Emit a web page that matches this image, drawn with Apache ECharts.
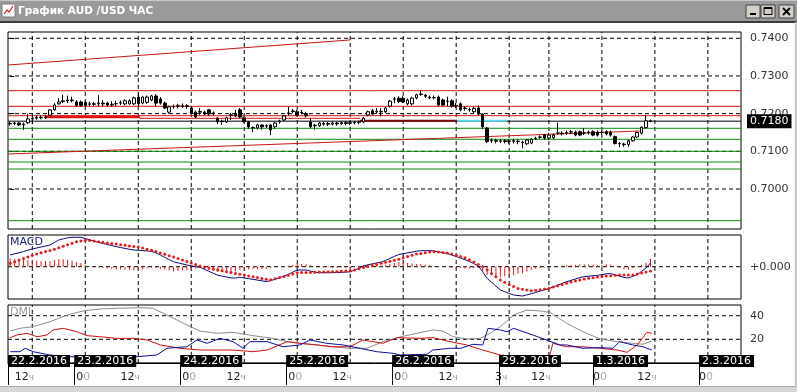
<!DOCTYPE html>
<html><head><meta charset="utf-8">
<script src="https://cdn.jsdelivr.net/npm/echarts@6/dist/echarts.min.js"></script>
<style>html,body{margin:0;padding:0;background:#fff}#c{width:797px;height:392px}</style>
</head><body><div id="c"></div>
<script>
// ---- data (hourly bars, index 0 = 22.2.2016 07:00), rows: [open, close, low, high] ----
const ohlc = [
[0.7173,0.7174,0.7168,0.7178],[0.7174,0.7175,0.7170,0.7178],[0.7175,0.7170,0.7167,0.7177],[0.7170,0.7172,0.7157,0.7176],
[0.7176,0.7186,0.7172,0.7200],[0.7186,0.7188,0.7172,0.7200],[0.7188,0.7190,0.7184,0.7195],[0.7190,0.7189,0.7185,0.7194],
[0.7189,0.7191,0.7186,0.7196],[0.7196,0.7210,0.7194,0.7212],[0.7210,0.7223,0.7208,0.7228],[0.7226,0.7231,0.7224,0.7241],
[0.7232,0.7234,0.7228,0.7250],[0.7234,0.7236,0.7228,0.7248],[0.7236,0.7235,0.7230,0.7245],[0.7231,0.7222,0.7218,0.7236],
[0.7231,0.7222,0.7219,0.7235],[0.7230,0.7222,0.7218,0.7234],[0.7225,0.7226,0.7220,0.7232],[0.7226,0.7225,0.7221,0.7231],
[0.7226,0.7228,0.7220,0.7249],[0.7228,0.7226,0.7220,0.7236],[0.7228,0.7223,0.7220,0.7232],[0.7223,0.7225,0.7219,0.7233],
[0.7226,0.7227,0.7220,0.7234],[0.7228,0.7229,0.7223,0.7235],[0.7226,0.7234,0.7222,0.7238],[0.7226,0.7234,0.7224,0.7238],
[0.7226,0.7242,0.7223,0.7245],[0.7244,0.7226,0.7218,0.7257],[0.7228,0.7244,0.7225,0.7247],[0.7230,0.7244,0.7226,0.7248],
[0.7236,0.7247,0.7233,0.7250],[0.7247,0.7228,0.7220,0.7252],[0.7239,0.7228,0.7224,0.7244],[0.7228,0.7215,0.7212,0.7232],
[0.7204,0.7218,0.7200,0.7221],[0.7218,0.7219,0.7213,0.7224],[0.7220,0.7221,0.7214,0.7226],[0.7219,0.7221,0.7215,0.7227],
[0.7221,0.7219,0.7213,0.7225],[0.7215,0.7202,0.7198,0.7219],[0.7204,0.7191,0.7188,0.7208],[0.7204,0.7206,0.7197,0.7215],
[0.7204,0.7199,0.7196,0.7208],[0.7210,0.7199,0.7194,0.7212],[0.7200,0.7202,0.7196,0.7206],[0.7188,0.7179,0.7172,0.7191],
[0.7180,0.7179,0.7170,0.7184],[0.7178,0.7189,0.7175,0.7192],[0.7195,0.7197,0.7183,0.7202],[0.7201,0.7194,0.7190,0.7210],
[0.7210,0.7191,0.7188,0.7215],[0.7189,0.7179,0.7176,0.7192],[0.7178,0.7165,0.7160,0.7180],[0.7162,0.7163,0.7151,0.7166],
[0.7162,0.7170,0.7158,0.7173],[0.7170,0.7165,0.7157,0.7172],[0.7167,0.7168,0.7162,0.7172],[0.7170,0.7157,0.7143,0.7172],
[0.7165,0.7175,0.7160,0.7178],[0.7178,0.7180,0.7173,0.7184],[0.7183,0.7194,0.7180,0.7196],[0.7200,0.7202,0.7195,0.7218],
[0.7206,0.7207,0.7201,0.7212],[0.7205,0.7196,0.7193,0.7210],[0.7203,0.7204,0.7198,0.7210],[0.7200,0.7194,0.7190,0.7205],
[0.7178,0.7165,0.7162,0.7188],[0.7168,0.7169,0.7157,0.7173],[0.7168,0.7175,0.7165,0.7178],[0.7172,0.7174,0.7168,0.7178],
[0.7174,0.7172,0.7167,0.7178],[0.7172,0.7175,0.7169,0.7179],[0.7175,0.7173,0.7168,0.7178],[0.7173,0.7176,0.7170,0.7180],
[0.7176,0.7174,0.7169,0.7179],[0.7174,0.7176,0.7170,0.7180],[0.7176,0.7177,0.7171,0.7181],[0.7177,0.7178,0.7172,0.7182],
[0.7178,0.7188,0.7175,0.7191],[0.7196,0.7205,0.7193,0.7208],[0.7208,0.7199,0.7196,0.7212],[0.7205,0.7206,0.7200,0.7215],
[0.7205,0.7206,0.7193,0.7215],[0.7205,0.7215,0.7202,0.7218],[0.7220,0.7233,0.7216,0.7236],[0.7238,0.7239,0.7228,0.7244],
[0.7241,0.7232,0.7228,0.7246],[0.7241,0.7231,0.7228,0.7246],[0.7226,0.7236,0.7222,0.7240],[0.7226,0.7241,0.7222,0.7245],
[0.7242,0.7250,0.7238,0.7253],[0.7251,0.7252,0.7247,0.7261],[0.7249,0.7246,0.7242,0.7252],[0.7244,0.7242,0.7238,0.7248],
[0.7242,0.7243,0.7238,0.7248],[0.7244,0.7223,0.7220,0.7248],[0.7236,0.7223,0.7220,0.7240],[0.7232,0.7233,0.7220,0.7245],
[0.7234,0.7220,0.7216,0.7238],[0.7221,0.7222,0.7215,0.7228],[0.7226,0.7210,0.7206,0.7230],[0.7215,0.7214,0.7208,0.7220],
[0.7211,0.7210,0.7205,0.7216],[0.7205,0.7214,0.7202,0.7218],[0.7215,0.7199,0.7196,0.7222],[0.7199,0.7165,0.7160,0.7201],
[0.7162,0.7126,0.7122,0.7164],[0.7128,0.7129,0.7122,0.7134],[0.7129,0.7127,0.7121,0.7133],[0.7127,0.7128,0.7122,0.7133],
[0.7128,0.7126,0.7121,0.7132],[0.7126,0.7128,0.7120,0.7132],[0.7128,0.7127,0.7121,0.7133],[0.7127,0.7126,0.7119,0.7131],
[0.7124,0.7123,0.7108,0.7128],[0.7120,0.7130,0.7117,0.7133],[0.7122,0.7132,0.7119,0.7135],[0.7134,0.7135,0.7130,0.7139],
[0.7137,0.7138,0.7133,0.7142],[0.7143,0.7135,0.7131,0.7146],[0.7135,0.7143,0.7130,0.7149],[0.7136,0.7143,0.7133,0.7148],
[0.7148,0.7149,0.7143,0.7176],[0.7148,0.7147,0.7142,0.7153],[0.7148,0.7150,0.7143,0.7155],[0.7151,0.7152,0.7146,0.7157],
[0.7151,0.7143,0.7140,0.7155],[0.7152,0.7143,0.7140,0.7155],[0.7148,0.7149,0.7143,0.7162],[0.7150,0.7151,0.7145,0.7155],
[0.7152,0.7143,0.7140,0.7156],[0.7151,0.7143,0.7139,0.7155],[0.7150,0.7151,0.7145,0.7156],[0.7152,0.7146,0.7142,0.7156],
[0.7151,0.7143,0.7139,0.7155],[0.7139,0.7121,0.7118,0.7142],[0.7121,0.7120,0.7111,0.7125],[0.7119,0.7118,0.7112,0.7123],
[0.7118,0.7128,0.7112,0.7131],[0.7128,0.7138,0.7126,0.7140],[0.7138,0.7150,0.7135,0.7152],[0.7148,0.7164,0.7145,0.7166],
[0.7163,0.7181,0.7160,0.7196],[0.7181,0.7180,0.7177,0.7184]
];
// MACD & signal (units of 2e-5)
const macd = [11.7,12.9,14,15.2,16.5,17.7,18.7,19.7,20.7,21.7,24.2,26.7,27.8,28.9,29.4,29.4,29.4,28.2,26.8,25.5,
24.3,23.2,22.2,21.2,20.1,19.2,18.3,17.4,16.7,16.4,16.1,15.8,15.3,13.8,11.7,9.4,7.1,4.9,3.8,2.8,
1.7,0.9,0.1,-0.6,-2.6,-4.6,-6.6,-8.5,-9.4,-10.3,-11.2,-11.3,-10.6,-11.3,-12,-12.6,-13.4,-14.1,-14.9,-14,
-12.5,-11,-9.4,-7.6,-5.4,-3.3,-3.3,-3.3,-4.3,-5.5,-6,-6,-6,-6,-5.8,-5.6,-5.4,-5.1,-3.4,-1.3,
0.8,1.9,2.8,3.8,4.6,6.3,8.3,10.3,12.2,13,13.8,14.6,15.4,16,16,16,15.7,14.9,14,13.2,
11.7,10.1,8.6,7,5.3,3.1,0.9,-5,-11.6,-15.5,-19.4,-23.3,-25,-26.6,-28.3,-28.8,-29.3,-28.2,-27,-25.7,
-24.4,-23.1,-21.9,-20.2,-18.5,-16.7,-15,-13.7,-12.3,-10.9,-9.9,-9.5,-9,-8.6,-8.1,-7,-6.9,-8.2,-9.4,-10.7,
-11.3,-9.6,-7.9,-4.6,-1.3,3.7];
const signal = [3.4,5,6.6,8.2,9.8,11.4,12.7,13.9,15.1,16.2,17.4,18.9,20.4,21.9,23.4,24.9,25.8,26.5,26.3,25.7,
25,24.4,23.8,23.2,22.6,22,21.4,20.8,20.2,19.6,18.7,17.5,16.4,15.2,13.8,12.4,11,9.6,8.1,6.7,
5.2,3.7,2.2,0.7,-0.3,-1.2,-2.2,-3.1,-4.1,-5,-5.8,-6.7,-7.5,-8.3,-9.2,-10,-10.9,-11.7,-12.6,-13.1,
-12,-10.9,-9.8,-8.5,-7.2,-6.1,-5.9,-5.8,-5.7,-5.5,-5.4,-5.3,-5.1,-5,-4.8,-4.6,-4.4,-4.1,-3.3,-2.1,
-0.9,0.2,1.3,2.3,3.4,4.4,5.4,6.5,7.5,8.8,10.1,11.4,12.7,13.3,14,14.6,15,14.6,14.1,13.6,
12.8,11.5,10.2,8.9,7,4.7,2.3,0,-3.3,-6.7,-10,-13.3,-15.5,-17.7,-19.8,-21.8,-22.6,-23.4,-24,-23.6,
-23,-22.3,-21.7,-20.4,-19.1,-17.8,-16.5,-15.4,-14.3,-13.2,-12.3,-11.6,-11,-10.3,-9.8,-9.4,-9,-8.5,-8.3,-8.3,
-8.3,-8.2,-7.3,-6.3,-5.2,-4.2];
// DMI vertices [bar index, value]
const adx = [[0,27],[2.2,29.3],[5.2,30.7],[9,34.9],[12.9,40.6],[16.5,44],[20.3,45.7],[24.2,46.3],[29.4,46.8],[32.3,46.3],[35.5,40.6],[40,32.1],[43,27],[46.8,25.1],[50.5,25.9],[55,23.1],[59.5,20.8],[62.7,18],[65.6,16.6],[69.5,15.2],[73,13.7],[76.9,12.4],[80.8,12.4],[84.4,18],[88.3,22],[92.1,25.1],[95.7,27.9],[98,27],[100.3,22.2],[103.4,20.3],[106.4,20.8],[108.7,25.1],[111,30.7],[114,40.6],[117,44.8],[120,44],[122.2,42.9],[126,33.6],[129.7,26.4],[133.6,20.3],[137.4,18],[141,16.6],[143.3,15.8],[145.3,18.6]];
const plusDI = [[0,21.4],[1.5,23.6],[3.8,25.1],[6.1,22.2],[8.3,23.6],[9.7,27.9],[12,29.3],[15.1,26.4],[17.4,23.1],[20.3,22.2],[24.2,20.8],[27.8,20.8],[31,19.4],[34,15.2],[38.5,12.4],[43,10.9],[45.9,10.9],[50.5,10.9],[55,9.5],[58.2,10.9],[62.7,18],[65.6,16.6],[69.5,15.2],[73,13.7],[76.9,13.7],[79.9,19.4],[84.4,16.6],[87.6,21.4],[92.8,20.8],[95.7,21.4],[99.6,18],[103.4,15.2],[107,10.9],[111,6.7],[114.8,5.3],[120,5.3],[122.2,6.7],[122.9,16.6],[126,13.7],[129.7,13.7],[133.6,12.4],[137.4,10.9],[139.7,9],[142,15.2],[144.2,25.9],[145.3,25.1]];
const minusDI = [[0,9.5],[2.2,9.5],[3.4,12.4],[5.2,9.5],[9,6.7],[12.9,5.3],[20,4.5],[28.9,5.3],[33.2,6.7],[35.5,12.4],[40,13.7],[42.3,19.4],[44.6,16.6],[47.5,20.8],[50.5,18],[52.7,12.4],[54.3,18],[58.2,18],[61.8,13.7],[65.6,15.2],[67.9,19.4],[71.7,16.6],[75.4,15.2],[79.2,12.4],[83,9.5],[86.7,8.1],[88.3,6.7],[94.4,7.3],[95.7,10.9],[99.6,12.4],[102,12.4],[104.8,15.8],[107,15.2],[108.2,29.3],[111,27.9],[112.5,26.4],[114,29.3],[118.4,23.6],[120,21.4],[124.5,15.2],[126,15.2],[129.7,12.4],[133.6,12.9],[136.5,12.4],[138,18],[141,15.2],[143.3,13.7],[145.3,10.9]];
// axes / ticks
const priceTicks = [0.70,0.71,0.72,0.73,0.74];
const dmiTicks = [20,40];
const hourIdx = [5,17,29,41,53,65,77,89,101,113,122,134,146,158];
const hourText = ['12ч','00','12ч','00','12ч','00','12ч','00','12ч','3ч','12ч','00','12ч','00'];
const dayIdx = [-0.5,14.5,38.5,62.5,86.5,110.7,132,156];
const dayText = ['22.2.2016','23.2.2016','24.2.2016','25.2.2016','26.2.2016','29.2.2016','1.3.2016','2.3.2016'];
// drawn levels & trendlines
const redLevels = [0.72609,0.72195,0.71945];
const greenLevels = [0.71611,0.71319,0.7100,0.70716,0.7053,0.69158];
const redTrends = [[[-0.5,0.73291],[76.9,0.73955]],[[-0.5,0.70929],[142.6,0.71539]]];
const redBoldSegs = [[[7.9,0.71911],[29.4,0.71911]]];
const redThinSegs = [[[29.4,0.71876],[79.2,0.71876]]];
const darkRedSegs = [[[79.2,0.71810],[101.2,0.71810]]];
const cyanSegs = [[[101.2,0.71810],[112.5,0.71810]]];

const SLOTS = 166;
const cats = Array.from({length: SLOTS}, (_, i) => String(i));
const X0 = -0.5, X1 = SLOTS - 0.5;
const P0 = 0.68938, P1 = 0.74167;
const M0 = -32.3, M1 = 31.7;
const D0 = 0, D1 = 49.07;
const lastClose = ohlc[ohlc.length - 1][1];
const FONT = 'DejaVu Sans';

function ln(xi, yi, pts, color, width, type, z) {
  return {type:'line', xAxisIndex:xi, yAxisIndex:yi, data:pts, symbol:'none', showSymbol:false,
    silent:true, animation:false, z:z, lineStyle:{color:color, width:width, type:type||'solid'}};
}
const dash = [4,3];
const series = [];
priceTicks.forEach(v => series.push(ln(1,0,[[X0,v],[X1,v]],'#000',1,dash,1)));
hourIdx.forEach(i => series.push(ln(1,0,[[i,P0],[i,P1]],'#000',1,dash,1)));
greenLevels.forEach(v => series.push(ln(1,0,[[X0,v],[X1,v]],'#0a8a0a',1,'solid',2)));
redLevels.forEach(v => series.push(ln(1,0,[[X0,v],[X1,v]],'#d41414',1,'solid',2)));
redTrends.forEach(p => series.push(ln(1,0,p,'#c81414',1,'solid',3)));
redBoldSegs.forEach(p => series.push(ln(1,0,p,'#e01010',2.5,'solid',3)));
redThinSegs.forEach(p => series.push(ln(1,0,p,'#d41414',1,'solid',3)));
series.push(ln(1,0,[[X0,lastClose],[X1,lastClose]],'#000',1,'solid',3));
darkRedSegs.forEach(p => series.push(ln(1,0,p,'#7a0a0a',2,'solid',4)));
cyanSegs.forEach(p => series.push(ln(1,0,p,'#5fdcec',2,'solid',4)));
series.push({type:'candlestick', xAxisIndex:0, yAxisIndex:0, data:ohlc, barWidth:3, z:6, silent:true, animation:false,
  itemStyle:{color:'#fff', color0:'#000', borderColor:'#000', borderColor0:'#000', borderWidth:1}});
hourIdx.forEach(i => series.push(ln(3,2,[[i,M0],[i,M1]],'#000',1,dash,1)));
series.push(ln(3,2,[[X0,0],[X1,0]],'#000',1,dash,1));
series.push({type:'bar', xAxisIndex:2, yAxisIndex:2, data:macd.map((m,i)=>+(m-signal[i]).toFixed(1)),
  barWidth:1, silent:true, animation:false, z:2, itemStyle:{color:'#e01818'}});
series.push({type:'line', xAxisIndex:2, yAxisIndex:2, data:macd, symbol:'none', showSymbol:false, silent:true, animation:false, z:3,
  lineStyle:{color:'#0a0a78', width:1}});
series.push({type:'line', xAxisIndex:2, yAxisIndex:2, data:signal, symbol:'circle', symbolSize:3, showSymbol:true, showAllSymbol:true,
  silent:true, animation:false, z:4, itemStyle:{color:'#e81c1c'}, lineStyle:{width:0, opacity:0}});
hourIdx.forEach(i => series.push(ln(4,3,[[i,D0],[i,D1]],'#000',1,dash,1)));
dmiTicks.forEach(v => series.push(ln(4,3,[[X0,v],[X1,v]],'#000',1,dash,1)));
series.push(ln(4,3,adx,'#8c8c8c',1,'solid',2));
series.push(ln(4,3,plusDI,'#d01010',1,'solid',3));
series.push(ln(4,3,minusDI,'#0a0aa0',1,'solid',3));

const axLbl = {fontFamily:FONT, fontSize:11, color:'#333', padding:[4,0,0,0]};
function nearest(arr, v){ let b=0; arr.forEach((a,i)=>{ if (Math.abs(a-v) < Math.abs(arr[b]-v)) b=i; }); return b; }

const option = {
  animation:false,
  textStyle:{fontFamily:FONT},
  grid:[
    {left:8, top:32, width:733, height:197, show:true, borderColor:'#000', borderWidth:1},
    {left:8, top:235, width:733, height:64, show:true, borderColor:'#000', borderWidth:1},
    {left:8, top:305, width:733, height:57.9, show:true, borderColor:'#000', borderWidth:1}
  ],
  xAxis:[
    {type:'category', gridIndex:0, data:cats, boundaryGap:true, show:false},
    {type:'value', gridIndex:0, min:X0, max:X1, show:false},
    {type:'category', gridIndex:1, data:cats, boundaryGap:true, show:false},
    {type:'value', gridIndex:1, min:X0, max:X1, show:false},
    {type:'value', gridIndex:2, min:X0, max:X1, position:'bottom', z:10,
      axisLine:{show:true, lineStyle:{color:'#000'}}, splitLine:{show:false},
      axisTick:{show:true, customValues:dayIdx, length:22, lineStyle:{color:'#000'}},
      axisLabel:{customValues:dayIdx, margin:-8, align:'left', color:'#fff', backgroundColor:'#000',
        fontFamily:FONT, fontSize:11, lineHeight:12, padding:[0,3,0,3],
        formatter:v => dayText[nearest(dayIdx, v)]}},
    {type:'value', gridIndex:2, min:X0, max:X1, position:'bottom', z:9,
      axisLine:{show:false}, axisTick:{show:false}, splitLine:{show:false},
      axisLabel:{customValues:hourIdx, margin:9, fontFamily:FONT, fontSize:11,
        formatter:v => { const t = hourText[nearest(hourIdx, v)];
          return t === '00' ? '{d|0}{z|0}' : '{d|' + t.slice(0,-1) + '}{h|ч}'; },
        rich:{d:{color:'#222', fontFamily:FONT, fontSize:11}, z:{color:'#aaa', fontFamily:FONT, fontSize:11, padding:[0,4,0,0]},
              h:{color:'#999', fontFamily:FONT, fontSize:9, padding:[0,16,0,0]}}}}
  ],
  yAxis:[
    {type:'value', gridIndex:0, min:P0, max:P1, position:'right', splitLine:{show:false}, axisLine:{show:false},
      axisTick:{show:true, customValues:priceTicks, length:4, lineStyle:{color:'#000'}},
      axisLabel:Object.assign({customValues:priceTicks, margin:9, formatter:v => v.toFixed(4)}, axLbl)},
    {type:'value', gridIndex:0, min:P0, max:P1, position:'right', z:8, splitLine:{show:false}, axisLine:{show:false}, axisTick:{show:false},
      axisLabel:{customValues:[lastClose], margin:6, formatter:v => v.toFixed(4), color:'#fff', backgroundColor:'#000',
        fontFamily:FONT, fontSize:11, padding:[2,3,1,3]}},
    {type:'value', gridIndex:1, min:M0, max:M1, position:'right', splitLine:{show:false}, axisLine:{show:false}, axisTick:{show:false},
      axisLabel:Object.assign({customValues:[0], margin:9, formatter:() => '+0.000'}, axLbl)},
    {type:'value', gridIndex:2, min:D0, max:D1, position:'right', splitLine:{show:false}, axisLine:{show:false}, axisTick:{show:false},
      axisLabel:Object.assign({customValues:dmiTicks, margin:9, formatter:v => String(v)}, axLbl)}
  ],
  graphic:[
    {type:'rect', shape:{x:0,y:0,width:797,height:22}, style:{fill:'#9a9a9a'}, silent:true},
    {type:'rect', shape:{x:0,y:0,width:797,height:1}, style:{fill:'#c8c8c8'}, silent:true},
    {type:'rect', shape:{x:0,y:21,width:797,height:2}, style:{fill:'#3c3c3c'}, silent:true},
    {type:'rect', shape:{x:2,y:4,width:13,height:13}, style:{fill:'#fff', stroke:'#7a7a7a', lineWidth:1}, silent:true},
    {type:'polyline', shape:{points:[[4,14],[7,10],[9,12],[13,6]]}, style:{stroke:'#d02020', lineWidth:1.2, fill:null}, silent:true},
    {type:'text', x:18, y:11, style:{text:'График AUD /USD ЧАС', fill:'#fff', font:'bold 10.5px "DejaVu Sans"', verticalAlign:'middle'}, silent:true},
    {type:'rect', shape:{x:746,y:5,width:14,height:13}, style:{fill:'#d4d0c8', stroke:'#404040', lineWidth:1}, silent:true},
    {type:'rect', shape:{x:750,y:13,width:6,height:2}, style:{fill:'#000'}, silent:true},
    {type:'rect', shape:{x:761,y:5,width:14,height:13}, style:{fill:'#d4d0c8', stroke:'#404040', lineWidth:1}, silent:true},
    {type:'rect', shape:{x:764,y:7.5,width:8,height:7}, style:{fill:null, stroke:'#000', lineWidth:1}, silent:true},
    {type:'rect', shape:{x:764,y:7,width:8,height:2}, style:{fill:'#000'}, silent:true},
    {type:'rect', shape:{x:779,y:5,width:15,height:13}, style:{fill:'#d4d0c8', stroke:'#404040', lineWidth:1}, silent:true},
    {type:'line', shape:{x1:783,y1:8,x2:790,y2:15}, style:{stroke:'#000', lineWidth:1.8}, silent:true},
    {type:'line', shape:{x1:790,y1:8,x2:783,y2:15}, style:{stroke:'#000', lineWidth:1.8}, silent:true},
    {type:'text', x:10, y:242, style:{text:'MACD', fill:'#1a2480', font:'11px "DejaVu Sans"', verticalAlign:'middle'}, silent:true},
    {type:'text', x:10, y:312, style:{text:'DMI', fill:'#9a9a9a', font:'11px "DejaVu Sans"', verticalAlign:'middle'}, silent:true},
    {type:'rect', shape:{x:0,y:387,width:797,height:5}, style:{fill:'#d6d6d6'}, silent:true},
    {type:'rect', shape:{x:0,y:386,width:797,height:1}, style:{fill:'#a8a8a8'}, silent:true},
    {type:'rect', shape:{x:795,y:22,width:2,height:366}, style:{fill:'#c8c8c8'}, silent:true}
  ],
  series: series
};
echarts.init(document.getElementById('c'), null, {renderer:'canvas'}).setOption(option);
</script></body></html>
